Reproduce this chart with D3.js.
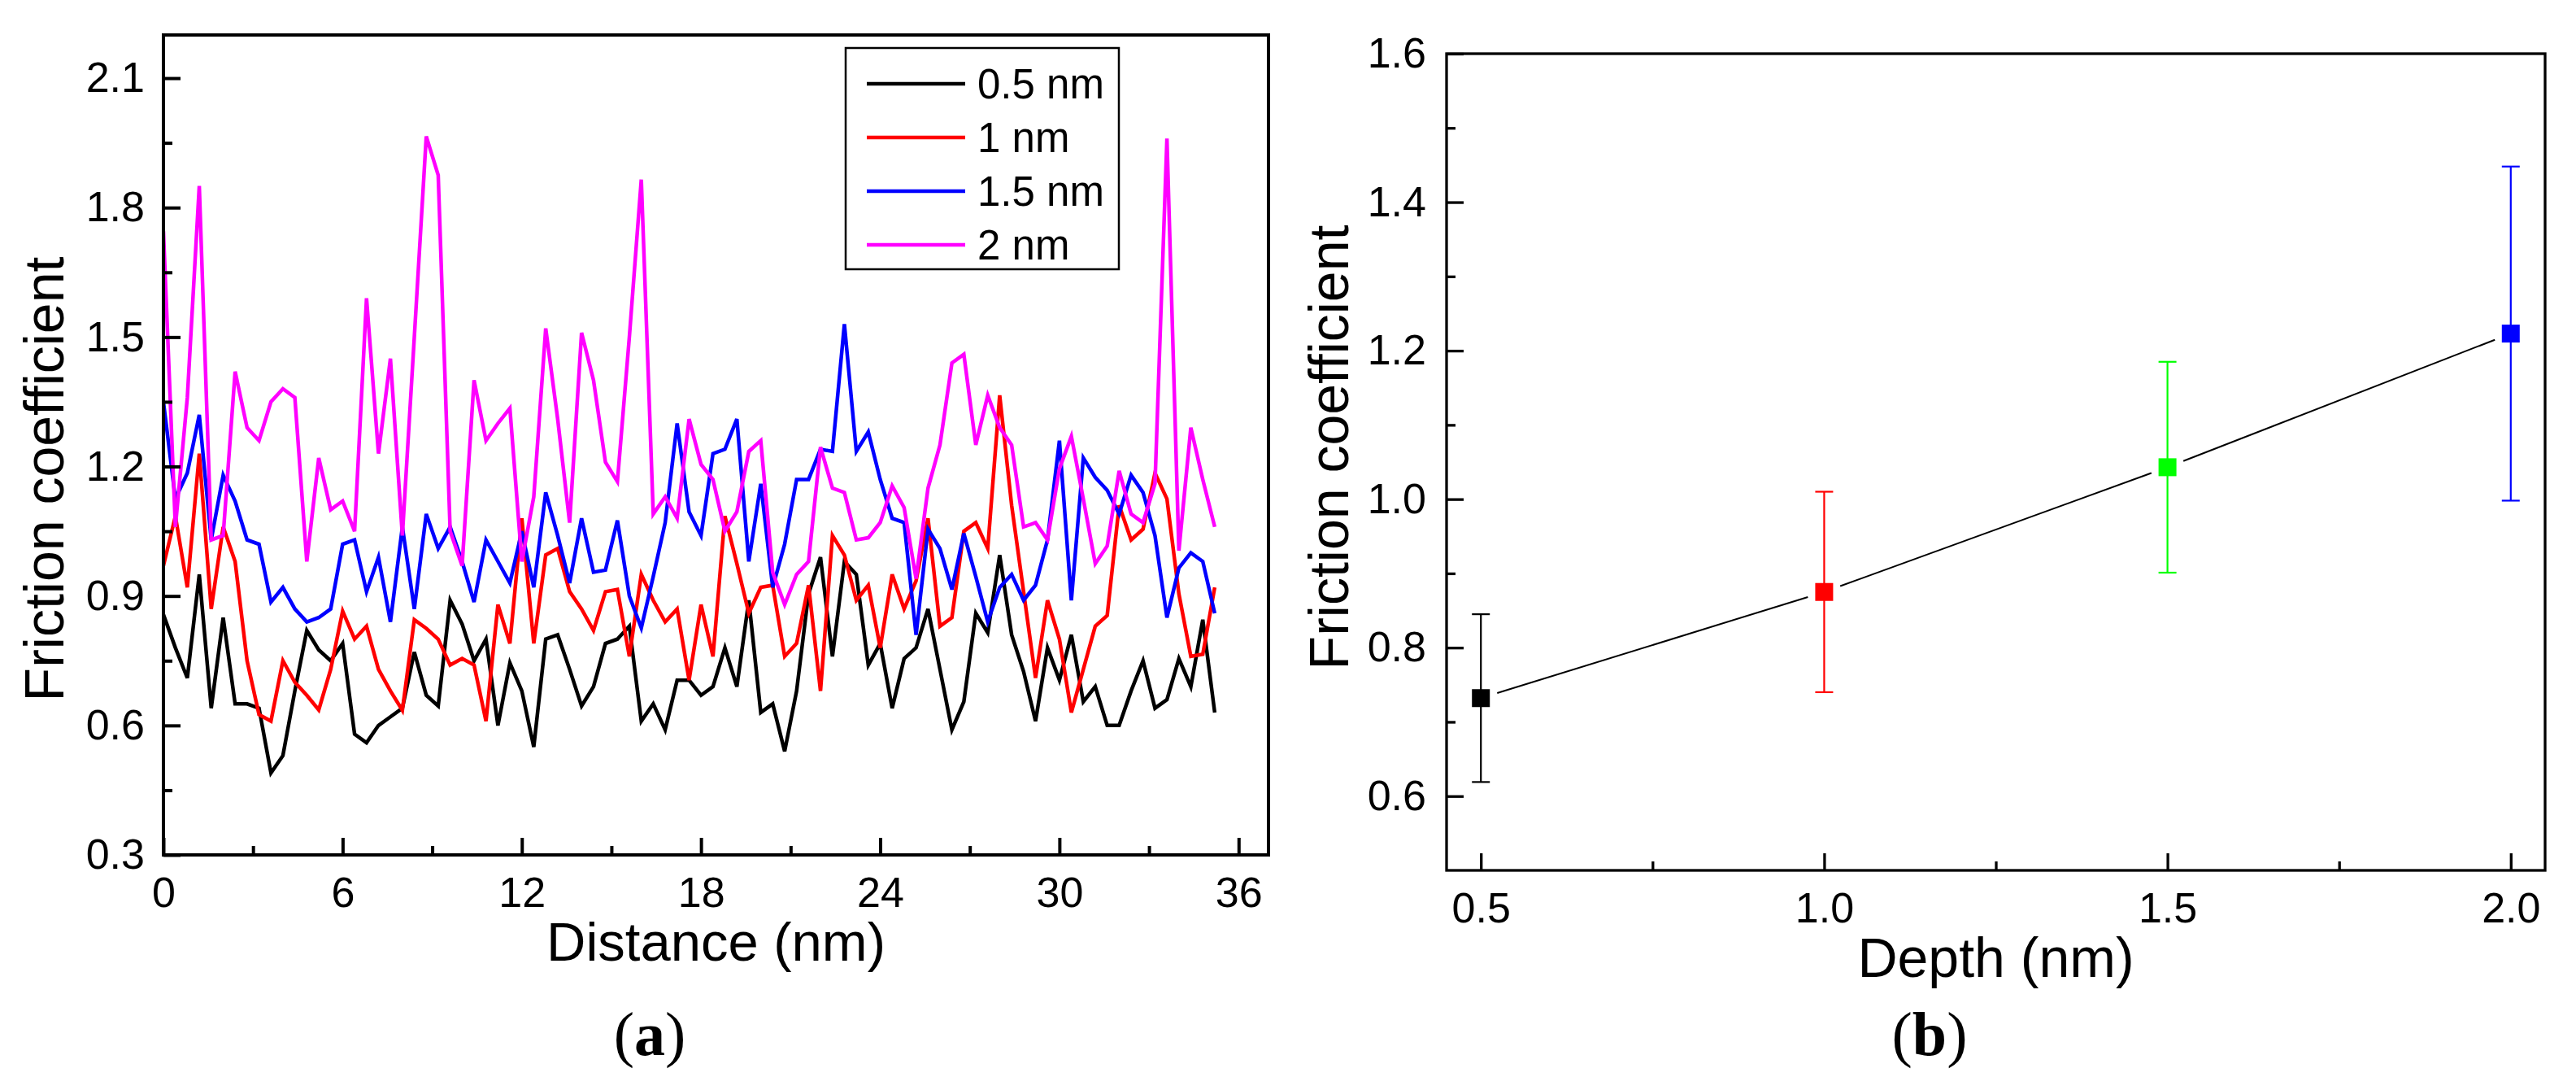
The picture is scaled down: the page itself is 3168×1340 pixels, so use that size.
<!DOCTYPE html>
<html>
<head>
<meta charset="utf-8">
<script src="https://cdn.jsdelivr.net/npm/d3@7"></script>
<style>
  body { margin: 0; background: #fff; }
  svg { display: block; }
  text { font-family: "Liberation Sans", Arial, sans-serif; fill: #000; }
</style>
</head>
<body>
<svg id="chart" width="3168" height="1340"></svg>
<script>
// panel (a): friction coefficient vs sliding distance
const distance = [0, 0.4, 0.8, 1.2, 1.6, 2, 2.4, 2.8, 3.2, 3.6, 4, 4.4, 4.8, 5.2, 5.6, 6, 6.4, 6.8, 7.2, 7.6,
    8, 8.4, 8.8, 9.2, 9.6, 10, 10.4, 10.8, 11.2, 11.6, 12, 12.4, 12.8, 13.2, 13.6, 14, 14.4, 14.8, 15.2, 15.6,
    16, 16.4, 16.8, 17.2, 17.6, 18, 18.4, 18.8, 19.2, 19.6, 20, 20.4, 20.8, 21.2, 21.6, 22, 22.4, 22.8, 23.2, 23.6,
    24, 24.4, 24.8, 25.2, 25.6, 26, 26.4, 26.8, 27.2, 27.6, 28, 28.4, 28.8, 29.2, 29.6, 30, 30.4, 30.8, 31.2, 31.6,
    32, 32.4, 32.8, 33.2, 33.6, 34, 34.4, 34.8, 35.2];

const cof05 = [0.857, 0.78, 0.71, 0.95, 0.64, 0.85, 0.65, 0.65, 0.64, 0.49, 0.53, 0.68, 0.82, 0.775, 0.75, 0.79, 0.58, 0.56, 0.60, 0.62,
    0.64, 0.77, 0.67, 0.645, 0.89, 0.835, 0.75, 0.80, 0.60, 0.745, 0.68, 0.55, 0.80, 0.81, 0.73, 0.645, 0.69, 0.79, 0.80, 0.83,
    0.61, 0.65, 0.59, 0.705, 0.705, 0.67, 0.69, 0.78, 0.69, 0.89, 0.63, 0.65, 0.54, 0.68, 0.905, 0.99, 0.76, 0.98, 0.95, 0.74,
    0.79, 0.64, 0.755, 0.78, 0.87, 0.73, 0.59, 0.655, 0.86, 0.815, 0.995, 0.81, 0.725, 0.61, 0.78, 0.705, 0.81, 0.655, 0.69, 0.60,
    0.60, 0.68, 0.75, 0.64, 0.66, 0.755, 0.69, 0.845, 0.63];

const cof10 = [0.97, 1.085, 0.92, 1.23, 0.87, 1.06, 0.98, 0.75, 0.625, 0.61, 0.75, 0.70, 0.67, 0.636, 0.73, 0.865, 0.80, 0.83, 0.73, 0.68,
    0.635, 0.845, 0.825, 0.80, 0.74, 0.755, 0.74, 0.61, 0.88, 0.79, 1.08, 0.79, 0.995, 1.01, 0.91, 0.87, 0.82, 0.91, 0.915, 0.76,
    0.95, 0.89, 0.84, 0.87, 0.705, 0.88, 0.76, 1.085, 0.975, 0.86, 0.92, 0.925, 0.76, 0.79, 0.925, 0.68, 1.04, 0.995, 0.89, 0.925,
    0.78, 0.95, 0.87, 0.935, 1.08, 0.83, 0.85, 1.05, 1.07, 1.01, 1.365, 1.11, 0.91, 0.71, 0.89, 0.80, 0.63, 0.73, 0.83, 0.855,
    1.11, 1.03, 1.055, 1.185, 1.125, 0.905, 0.76, 0.765, 0.92];

const cof15 = [1.35, 1.125, 1.185, 1.32, 1.03, 1.18, 1.12, 1.03, 1.02, 0.886, 0.92, 0.87, 0.84, 0.85, 0.87, 1.02, 1.03, 0.91, 0.99, 0.84,
    1.06, 0.87, 1.09, 1.01, 1.06, 0.98, 0.886, 1.03, 0.98, 0.93, 1.05, 0.92, 1.14, 1.04, 0.93, 1.08, 0.955, 0.96, 1.075, 0.90,
    0.826, 0.945, 1.07, 1.30, 1.095, 1.04, 1.23, 1.24, 1.31, 0.98, 1.16, 0.92, 1.02, 1.17, 1.17, 1.24, 1.235, 1.53, 1.235, 1.28,
    1.17, 1.08, 1.07, 0.81, 1.055, 1.01, 0.915, 1.045, 0.945, 0.84, 0.92, 0.95, 0.89, 0.925, 1.03, 1.26, 0.89, 1.22, 1.175, 1.145,
    1.09, 1.18, 1.14, 1.04, 0.85, 0.965, 1.00, 0.98, 0.86];

const cof20 = [1.745, 1.06, 1.36, 1.85, 1.03, 1.04, 1.42, 1.29, 1.26, 1.35, 1.38, 1.36, 0.98, 1.22, 1.10, 1.12, 1.05, 1.59, 1.23, 1.45,
    1.04, 1.50, 1.965, 1.875, 1.05, 0.97, 1.40, 1.26, 1.30, 1.335, 0.98, 1.13, 1.52, 1.31, 1.07, 1.51, 1.40, 1.21, 1.165, 1.50,
    1.865, 1.09, 1.13, 1.08, 1.31, 1.205, 1.17, 1.05, 1.095, 1.235, 1.26, 0.955, 0.88, 0.95, 0.98, 1.245, 1.15, 1.14, 1.03, 1.035,
    1.07, 1.155, 1.105, 0.94, 1.15, 1.25, 1.44, 1.46, 1.25, 1.365, 1.29, 1.25, 1.06, 1.07, 1.03, 1.195, 1.27, 1.125, 0.975, 1.016,
    1.19, 1.09, 1.07, 1.16, 1.96, 1.005, 1.29, 1.17, 1.06];

const seriesLabels = ["0.5 nm", "1 nm", "1.5 nm", "2 nm"];
const distanceTicks = [0, 6, 12, 18, 24, 30, 36];
const distanceMinor = [3, 9, 15, 21, 27, 33];
const cofTicksA = [0.3, 0.6, 0.9, 1.2, 1.5, 1.8, 2.1];
const cofMinorA = [0.45, 0.75, 1.05, 1.35, 1.65, 1.95];

// panel (b): mean friction coefficient vs depth
const depth = [0.5, 1.0, 1.5, 2.0];
const meanCof = [0.732, 0.875, 1.043, 1.223];
const errCof = [0.113, 0.135, 0.142, 0.225];
const depthTicks = [0.5, 1.0, 1.5, 2.0];
const depthMinor = [0.75, 1.25, 1.75];
const cofTicksB = [0.6, 0.8, 1.0, 1.2, 1.4, 1.6];
const cofMinorB = [0.7, 0.9, 1.1, 1.3, 1.5];

const lineColors = ["#000000", "#ff0000", "#0000ff", "#ff00ff"];
const pointColors = ["#000000", "#ff0000", "#00ff00", "#0000ff"];

const svg = d3.select("#chart");

function drawAxes(g, x, y, opt) {
    const w = x.range()[1], h = y.range()[0];

    g.append("g")
        .attr("transform", `translate(0,${h})`)
        .call(d3.axisBottom(x).tickValues(opt.xMinor).tickSize(-11).tickFormat(""))
        .call(a => a.select(".domain").remove())
        .selectAll("line").attr("stroke-width", opt.sw);
    g.append("g")
        .attr("transform", `translate(0,${h})`)
        .call(d3.axisBottom(x).tickValues(opt.xTicks).tickSize(-21).tickPadding(27).tickFormat(opt.xFormat))
        .call(a => a.select(".domain").remove())
        .call(a => a.selectAll("line").attr("stroke-width", opt.sw))
        .selectAll("text").attr("font-size", 52).attr("font-family", "Liberation Sans, Arial, sans-serif");

    g.append("g")
        .call(d3.axisLeft(y).tickValues(opt.yMinor).tickSize(-11).tickFormat(""))
        .call(a => a.select(".domain").remove())
        .selectAll("line").attr("stroke-width", opt.sw);
    g.append("g")
        .call(d3.axisLeft(y).tickValues(opt.yTicks).tickSize(-21).tickPadding(opt.yPad).tickFormat(d3.format(".1f")))
        .call(a => a.select(".domain").remove())
        .call(a => a.selectAll("line").attr("stroke-width", opt.sw))
        .selectAll("text").attr("font-size", 52).attr("dy", "0.32em").attr("font-family", "Liberation Sans, Arial, sans-serif");

    g.append("rect")
        .attr("x", 0).attr("y", 0)
        .attr("width", w).attr("height", h)
        .attr("fill", "none")
        .attr("stroke", "#000")
        .attr("stroke-width", opt.sw);
}

// ---------- panel (a) ----------
const A = { left: 201, top: 43, width: 1359, height: 1008 };
const gA = svg.append("g").attr("transform", `translate(${A.left},${A.top})`);

const xA = d3.scaleLinear().domain([0, 37]).range([0, A.width]);
const yA = d3.scaleLinear().domain([0.3, 2.2]).range([A.height, 0]);

gA.append("clipPath").attr("id", "clipA")
    .append("rect").attr("width", A.width).attr("height", A.height);

const seriesA = [cof05, cof10, cof15, cof20];
const lineA = d3.line()
    .x((d, i) => xA(distance[i]))
    .y(d => yA(d));

gA.append("g")
    .attr("clip-path", "url(#clipA)")
    .selectAll("path")
    .data(seriesA)
    .enter().append("path")
    .attr("d", lineA)
    .attr("fill", "none")
    .attr("stroke", (d, i) => lineColors[i])
    .attr("stroke-width", 4.5)
    .attr("stroke-linejoin", "miter");

drawAxes(gA, xA, yA, {
    xTicks: distanceTicks, xMinor: distanceMinor, xFormat: d3.format("d"),
    yTicks: cofTicksA, yMinor: cofMinorA, yPad: 23, sw: 4
});

// legend
const legend = gA.append("g").attr("transform", `translate(${1040 - A.left},${59 - A.top})`);
legend.append("rect")
    .attr("width", 336).attr("height", 272)
    .attr("fill", "#fff").attr("stroke", "#000").attr("stroke-width", 2.5);
const item = legend.selectAll(".item")
    .data(seriesLabels)
    .enter().append("g")
    .attr("class", "item")
    .attr("transform", (d, i) => `translate(0,${44 + i * 66})`);
item.append("line")
    .attr("x1", 26).attr("x2", 147)
    .attr("stroke", (d, i) => lineColors[i])
    .attr("stroke-width", 4.5);
item.append("text")
    .attr("x", 162).attr("dy", "0.35em")
    .attr("font-size", 51)
    .text(d => d);

svg.append("text")
    .attr("x", A.left + A.width / 2).attr("y", 1181)
    .attr("text-anchor", "middle").attr("font-size", 67)
    .text("Distance (nm)");
svg.append("text")
    .attr("transform", "translate(78,589) rotate(-90)")
    .attr("text-anchor", "middle").attr("font-size", 68)
    .text("Friction coefficient");

// ---------- panel (b) ----------
const B = { left: 1779, top: 66, width: 1351, height: 1004 };
const gB = svg.append("g").attr("transform", `translate(${B.left},${B.top})`);

const xB = d3.scaleLinear().domain([0.45, 2.05]).range([0, B.width]);
const yB = d3.scaleLinear().domain([0.5, 1.6]).range([B.height, 0]);

// connecting line, with a small gap around each marker
const gap = 21;
const segs = d3.pairs(depth.map((d, i) => [xB(d), yB(meanCof[i])]));
gB.selectAll(".seg")
    .data(segs)
    .enter().append("line")
    .attr("class", "seg")
    .each(function (p) {
        const dx = p[1][0] - p[0][0], dy = p[1][1] - p[0][1];
        const len = Math.sqrt(dx * dx + dy * dy);
        d3.select(this)
            .attr("x1", p[0][0] + dx / len * gap).attr("y1", p[0][1] + dy / len * gap)
            .attr("x2", p[1][0] - dx / len * gap).attr("y2", p[1][1] - dy / len * gap);
    })
    .attr("stroke", "#000").attr("stroke-width", 2);

const pts = gB.selectAll(".pt")
    .data(depth)
    .enter().append("g")
    .attr("class", "pt")
    .attr("stroke", (d, i) => pointColors[i])
    .attr("stroke-width", 2.2);
pts.append("line")
    .attr("x1", d => xB(d)).attr("x2", d => xB(d))
    .attr("y1", (d, i) => yB(meanCof[i] - errCof[i]))
    .attr("y2", (d, i) => yB(meanCof[i] + errCof[i]));
pts.append("line")
    .attr("x1", d => xB(d) - 11).attr("x2", d => xB(d) + 11)
    .attr("y1", (d, i) => yB(meanCof[i] + errCof[i]))
    .attr("y2", (d, i) => yB(meanCof[i] + errCof[i]));
pts.append("line")
    .attr("x1", d => xB(d) - 11).attr("x2", d => xB(d) + 11)
    .attr("y1", (d, i) => yB(meanCof[i] - errCof[i]))
    .attr("y2", (d, i) => yB(meanCof[i] - errCof[i]));
pts.append("rect")
    .attr("x", d => xB(d) - 11)
    .attr("y", (d, i) => yB(meanCof[i]) - 11)
    .attr("width", 22).attr("height", 22)
    .attr("fill", (d, i) => pointColors[i])
    .attr("stroke", "none");

drawAxes(gB, xB, yB, {
    xTicks: depthTicks, xMinor: depthMinor, xFormat: d3.format(".1f"),
    yTicks: cofTicksB, yMinor: cofMinorB, yPad: 25, sw: 3.3
});

svg.append("text")
    .attr("x", B.left + B.width / 2).attr("y", 1201)
    .attr("text-anchor", "middle").attr("font-size", 68)
    .text("Depth (nm)");
svg.append("text")
    .attr("transform", "translate(1658,550) rotate(-90)")
    .attr("text-anchor", "middle").attr("font-size", 68)
    .text("Friction coefficient");

// sub-figure captions
[["a", 799], ["b", 2373]].forEach(c => {
    const t = svg.append("text")
        .attr("x", c[1]).attr("y", 1297)
        .attr("text-anchor", "middle")
        .attr("font-size", 76)
        .style("font-family", "Liberation Serif, Times New Roman, serif");
    t.append("tspan").text("(");
    t.append("tspan").attr("font-weight", "bold").text(c[0]);
    t.append("tspan").text(")");
});
</script>
</body>
</html>
